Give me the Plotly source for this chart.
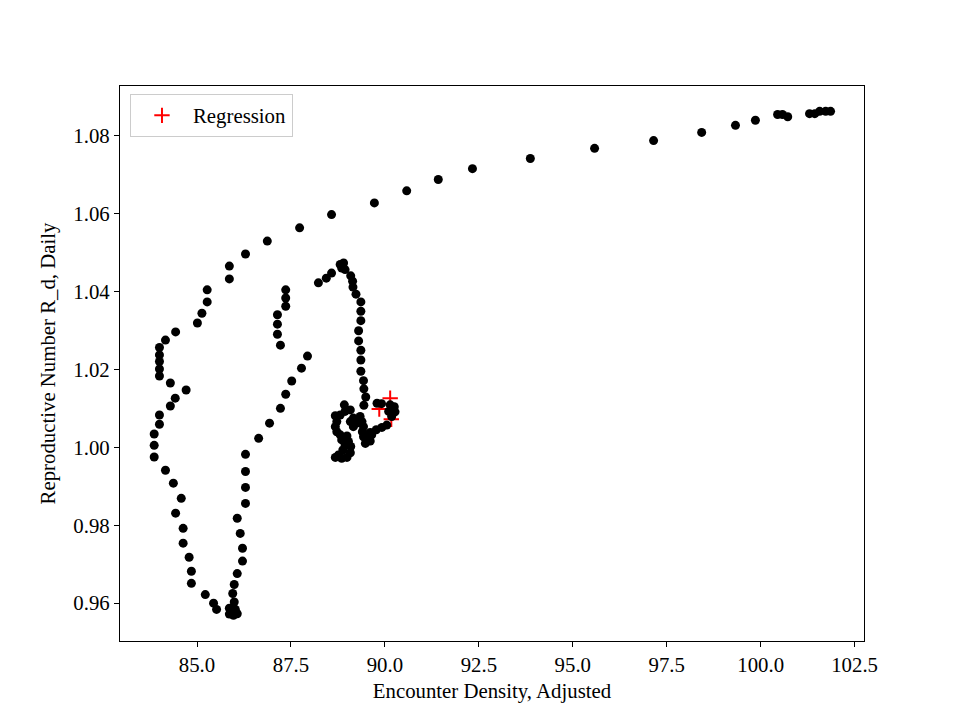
import plotly.graph_objects as go

# Observed trajectory (black dots)
encounter_density = [
    101.86, 101.73, 101.57, 101.44, 101.30, 100.72, 100.58, 100.45, 99.86, 99.33,
    98.43, 97.15, 95.58, 93.87, 92.33, 91.42, 90.58, 89.72, 88.58, 87.73,
    86.87, 86.29, 85.86, 85.86, 85.27, 85.27, 85.13, 85.01, 84.43, 84.16,
    84.00, 84.00, 84.00, 84.00, 84.00, 84.29, 84.71, 84.42, 84.29, 84.00,
    84.00, 83.86, 83.86, 83.86, 84.16, 84.37, 84.58, 84.43, 84.63, 84.63,
    84.79, 84.85, 84.85, 85.22, 85.44, 85.52, 85.86, 85.86, 85.97, 86.07,
    86.02, 85.99, 85.95, 85.99, 86.07, 86.21, 86.21, 86.15, 86.07, 86.29,
    86.29, 86.29, 86.29, 86.64, 86.93, 87.22, 87.36, 87.52, 87.78, 87.94,
    87.22, 87.14, 87.14, 87.14, 87.36, 87.36, 87.36,
    88.23, 88.44, 88.58, 88.81, 88.90, 88.85, 88.94, 89.09, 89.14, 89.15,
    89.23, 89.36, 89.36, 89.36, 89.30, 89.30, 89.36, 89.36, 89.36, 89.43,
    89.44, 89.49, 89.44,
    89.79, 89.91, 90.14, 90.25, 90.27, 90.18, 90.10, 90.05, 89.92, 89.77,
    89.61, 89.48, 89.40,
    89.43, 89.39, 89.34, 89.25, 89.16, 89.08, 89.16, 89.43, 89.52, 89.61,
    89.48, 89.65,
    88.92, 88.94, 88.81, 88.68, 88.72, 88.68, 88.72, 88.81, 88.85, 88.94,
    88.88, 88.76, 88.68, 88.85, 88.99, 89.08, 89.09, 89.03, 88.99, 89.08,
]
reproductive_number = [
    1.0862, 1.0862, 1.0862, 1.0856, 1.0856, 1.0848, 1.0854, 1.0854, 1.0839, 1.0826,
    1.0808, 1.0787, 1.0767, 1.0741, 1.0715, 1.0687, 1.0658, 1.0627, 1.0597, 1.0563,
    1.0529, 1.0496, 1.0465, 1.0432, 1.0404, 1.0373, 1.0344, 1.0319, 1.0296, 1.0275,
    1.0256, 1.0237, 1.0220, 1.0201, 1.0183, 1.0165, 1.0147, 1.0126, 1.0106, 1.0083,
    1.0059, 1.0034, 1.0005, 0.9975, 0.9941, 0.9908, 0.9869, 0.9831, 0.9792, 0.9754,
    0.9718, 0.9682, 0.9651, 0.9622, 0.9600, 0.9584, 0.9587, 0.9572, 0.9569, 0.9573,
    0.9584, 0.9603, 0.9625, 0.9648, 0.9676, 0.9708, 0.9741, 0.9779, 0.9818, 0.9856,
    0.9897, 0.9938, 0.9982, 1.0023, 1.0062, 1.0100, 1.0136, 1.0170, 1.0203, 1.0234,
    1.0262, 1.0290, 1.0316, 1.0340, 1.0362, 1.0383, 1.0404,
    1.0422, 1.0434, 1.0447, 1.0469, 1.0473, 1.0460, 1.0456, 1.0440, 1.0426, 1.0411,
    1.0393, 1.0373, 1.0349, 1.0325, 1.0299, 1.0273, 1.0249, 1.0224, 1.0195, 1.0171,
    1.0150, 1.0129, 1.0108,
    1.0113, 1.0112, 1.0109, 1.0104, 1.0091, 1.0079, 1.0092, 1.0057, 1.0051, 1.0045,
    1.0038, 1.0033, 1.0040,
    1.0053, 1.0066, 1.0079, 1.0062, 1.0075, 1.0066, 1.0053, 1.0027, 1.0019, 1.0016,
    1.0010, 1.0032,
    1.0109, 1.0092, 1.0083, 1.0081, 1.0066, 1.0053, 1.0040, 1.0032, 1.0019, 1.0006,
    0.9993, 0.9980, 0.9974, 0.9972, 0.9974, 0.9986, 1.0002, 1.0015, 1.0029, 1.0096,
]

# Regression points (red +)
regression_x = [90.14, 89.85, 90.17]
regression_y = [1.0126, 1.0098, 1.0072]

x_ticks = [85.0, 87.5, 90.0, 92.5, 95.0, 97.5, 100.0, 102.5]
x_tick_labels = ["85.0", "87.5", "90.0", "92.5", "95.0", "97.5", "100.0", "102.5"]
y_ticks = [0.96, 0.98, 1.00, 1.02, 1.04, 1.06, 1.08]
y_tick_labels = ["0.96", "0.98", "1.00", "1.02", "1.04", "1.06", "1.08"]

FONT = "Liberation Serif, Times New Roman, serif"
FS = 20.8

fig = go.Figure()
fig.add_trace(go.Scatter(
    x=regression_x, y=regression_y, mode="markers", name="Regression",
    marker=dict(symbol="cross-thin", size=11, color="red",
                line=dict(color="red", width=2)),
))
fig.add_trace(go.Scatter(
    x=encounter_density, y=reproductive_number, mode="markers",
    showlegend=False,
    marker=dict(symbol="circle", size=9, color="black", line=dict(width=0)),
))

axis_common = dict(
    showgrid=False, zeroline=False, showline=True, linecolor="black",
    linewidth=1.2, mirror=True, ticks="outside", ticklen=5, tickwidth=1.2,
    tickcolor="black", tickfont=dict(family=FONT, size=FS, color="black"),
)

fig.update_layout(
    width=960, height=720, autosize=False,
    margin=dict(l=112, r=104, t=78, b=87),
    paper_bgcolor="white", plot_bgcolor="white",
    font=dict(family=FONT, size=FS, color="black"),
    xaxis=dict(range=[82.95, 102.75], tickvals=x_ticks, ticktext=x_tick_labels,
               title=dict(text="Encounter Density, Adjusted",
                          font=dict(family=FONT, size=FS), standoff=8),
               **axis_common),
    yaxis=dict(range=[0.9503, 1.0927], tickvals=y_ticks, ticktext=y_tick_labels,
               title=dict(text="Reproductive Number R_d, Daily",
                          font=dict(family=FONT, size=FS), standoff=12),
               **axis_common),
    legend=dict(x=0.0134, y=0.985, xanchor="left", yanchor="top",
                bgcolor="white", bordercolor="#cccccc", borderwidth=1,
                font=dict(family=FONT, size=FS), itemwidth=52),
)

fig.write_html("out.html")
